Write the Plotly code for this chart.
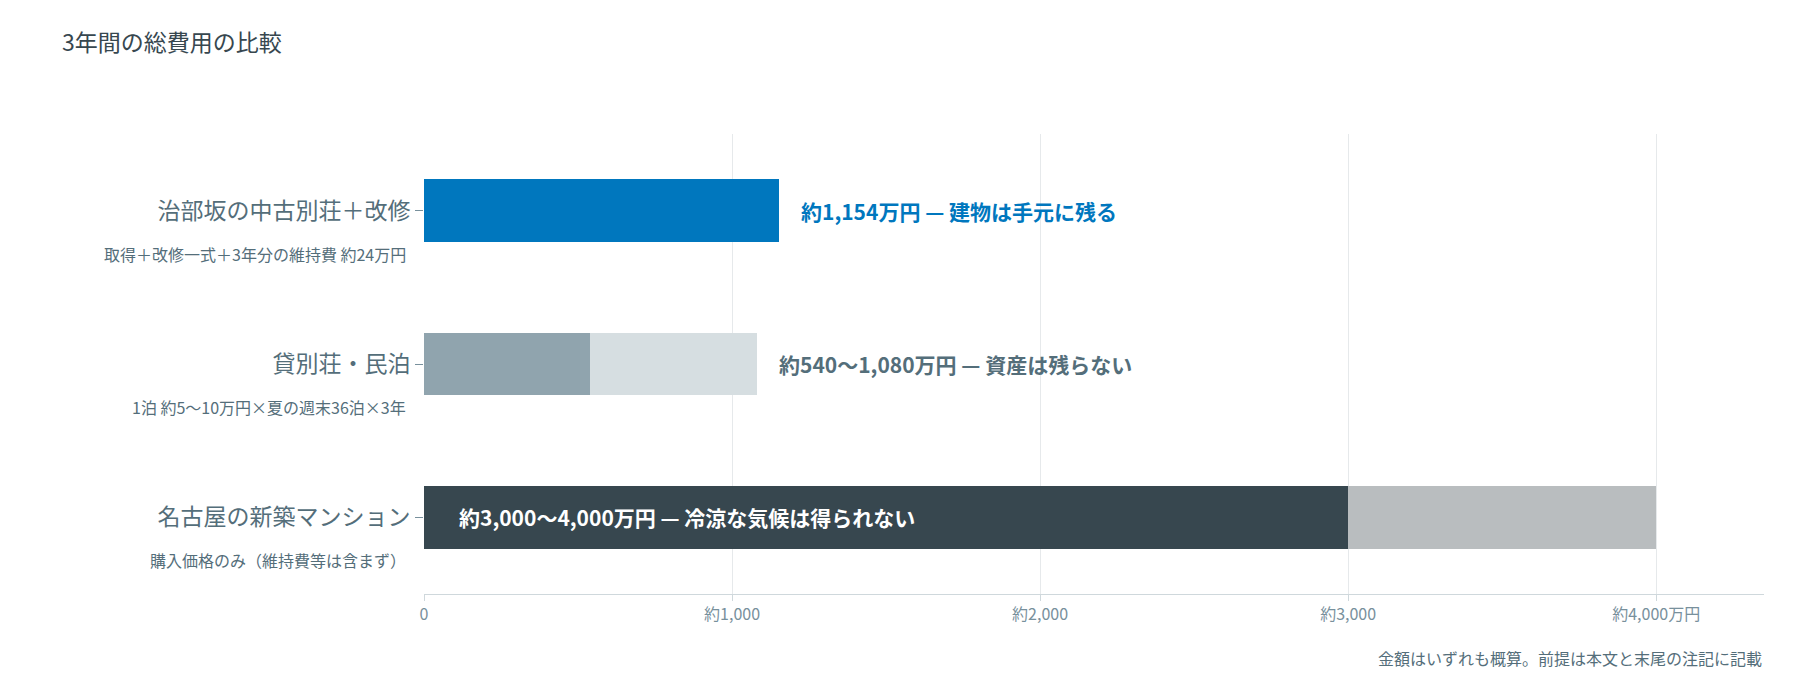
import plotly.graph_objects as go

categories = ["治部坂の中古別荘＋改修", "貸別荘・民泊", "名古屋の新築マンション"]
subtitles = ["取得＋改修一式＋3年分の維持費 約24万円", "1泊 約5〜10万円×夏の週末36泊×3年", "購入価格のみ（維持費等は含まず）"]
base_values = [1154, 540, 3000]
extra_values = [0, 540, 1000]
labels = ["約1,154万円 — 建物は手元に残る", "約540〜1,080万円 — 資産は残らない", "約3,000〜4,000万円 — 冷涼な気候は得られない"]
tick_vals = [0, 1000, 2000, 3000, 4000]
tick_text = ["0", "約1,000", "約2,000", "約3,000", "約4,000万円"]

base_colors = ["#0077BE", "#90A4AE", "#37474F"]
extra_colors = ["#0077BE", "#D6DEE1", "#B9BDBF"]
label_colors = ["#0077BE", "#546E7A", "#FFFFFF"]
font = "Noto Sans CJK JP"

fig = go.Figure()
fig.add_bar(y=categories, x=base_values, orientation="h", marker=dict(color=base_colors, line_width=0), width=0.41, hoverinfo="x")
fig.add_bar(y=categories, x=extra_values, orientation="h", marker=dict(color=extra_colors, line_width=0), width=0.41, hoverinfo="x")

for i, cat in enumerate(categories):
    total = base_values[i] + extra_values[i]
    inside = i == 2
    fig.add_annotation(
        x=0 if inside else total, y=cat, text="<b>%s</b>" % labels[i], showarrow=False,
        xanchor="left", xshift=33 if inside else 20, font=dict(size=21, color=label_colors[i], family=font),
    )
    fig.add_annotation(
        x=0, xref="paper", y=cat, yref="y", text=subtitles[i], showarrow=False,
        xanchor="right", xshift=-16, yshift=-43, font=dict(size=16, color="#546E7A", family=font),
    )

fig.add_annotation(
    x=1, xref="paper", y=0, yref="paper", yshift=-50, text="金額はいずれも概算。前提は本文と末尾の注記に記載",
    showarrow=False, xanchor="right", yanchor="top", font=dict(size=16, color="#546E7A", family=font),
)

fig.update_layout(
    width=1800, height=675, barmode="stack", showlegend=False,
    plot_bgcolor="white", paper_bgcolor="white",
    font=dict(family=font, color="#546E7A"),
    title=dict(text="3年間の総費用の比較", x=0.03, xanchor="left", y=0.96, font=dict(size=23, color="#37474F")),
    margin=dict(l=416, r=44, t=126, b=89),
    xaxis=dict(range=[0, 4350], tickvals=tick_vals, ticktext=tick_text, showgrid=True, gridcolor="#E6E9EB",
               zeroline=False, showline=True, linecolor="#CFD8DC", ticks="outside", ticklen=6, tickcolor="#CFD8DC",
               tickfont=dict(size=16, color="#78909C")),
    yaxis=dict(autorange="reversed", ticks="outside", ticklen=8, tickcolor="#78909C", showgrid=False,
               tickfont=dict(size=23, color="#546E7A")),
)

fig.write_html("out.html")
